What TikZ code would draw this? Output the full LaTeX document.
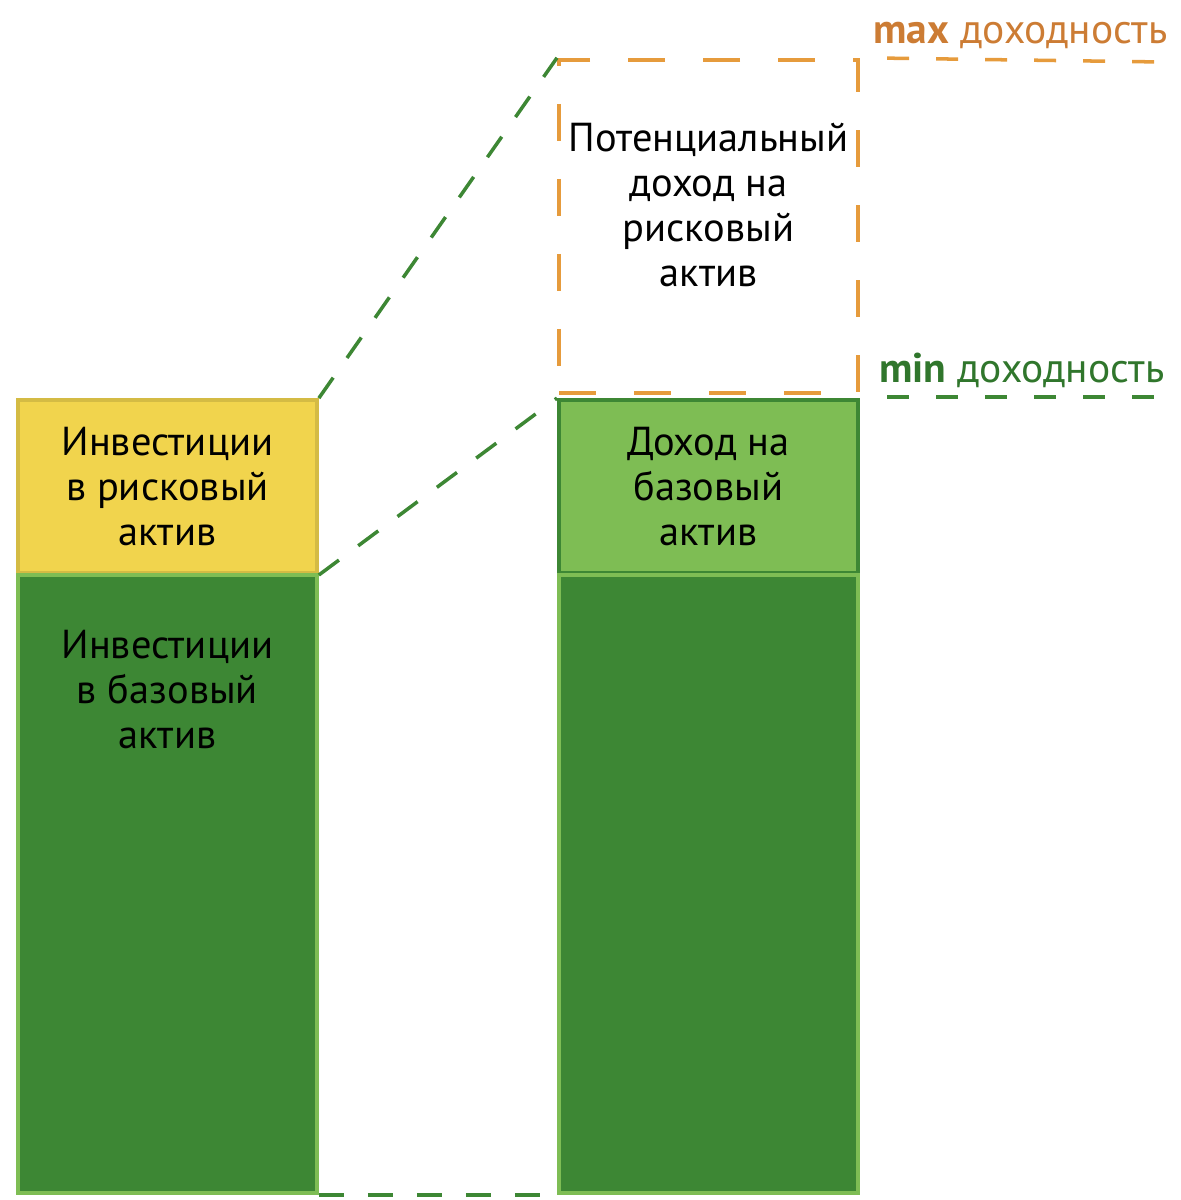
\documentclass[tikz,border=0pt]{standalone}
\usepackage{fontspec}
\setmainfont{PT Sans}
\usetikzlibrary{positioning}
\definecolor{darkgreen}{RGB}{61,135,52}
\definecolor{lightgreen}{RGB}{126,189,84}
\definecolor{goldyellow}{RGB}{241,212,77}
\definecolor{riskorange}{RGB}{230,155,60}
\definecolor{maxorange}{RGB}{204,124,52}
\definecolor{mingreen}{RGB}{48,118,44}

\begin{document}
\begin{tikzpicture}[
	box/.style={rectangle, inner sep=0pt, line width=1.1pt, minimum width=2.99cm, anchor=south west,
		align=center, font=\fontsize{11.5}{12.8}\selectfont},
	boxtext/.style={align=center, font=\fontsize{11.5}{12.8}\selectfont},
	greendash/.style={darkgreen, line width=1pt, dash pattern=on 0.25cm off 0.24cm},
	orangedash/.style={draw=riskorange, line width=1.2pt, dash pattern=on 0.37cm off 0.38cm},
	leveldash/.style={line width=1pt, dash pattern=on 0.22cm off 0.27cm, dash phase=-0.27cm},
	levellabel/.style={anchor=base east, inner sep=0pt, font=\fontsize{11.8}{14}\selectfont}
]
	\useasboundingbox (0,0) rectangle (11.81,12);

	\node[box, fill=goldyellow, draw=goldyellow!88!black, minimum height=1.73cm] (riskinv) at (0.16,6.25)
		{Инвестиции\\в рисковый\\актив};
	\node[box, fill=darkgreen, draw=lightgreen, minimum height=6.18cm] (baseinv) at (0.16,0.05) {};
	\node[boxtext, below=0.45cm of baseinv.north] (baseinvtext) {Инвестиции\\в базовый\\актив};

	\node[box, fill=lightgreen, draw=darkgreen, minimum height=1.73cm] (baseinc) at (5.57,6.25)
		{Доход на\\базовый\\актив};
	\node[box, fill=darkgreen, draw=lightgreen, minimum height=6.18cm] (baseret) at (5.57,0.05) {};

	\node[box, orangedash, minimum height=3.33cm] (riskinc) at (5.57,8.05) {};
	\node[boxtext, below=0.53cm of riskinc.north] (riskinctext) {Потенциальный\\доход на\\рисковый\\актив};

	\coordinate (maxend) at (11.62,11.38);
	\coordinate (minend) at (11.62,8.03);
	\draw[leveldash, riskorange] (riskinc.north east) -- (maxend);
	\draw[leveldash, darkgreen] (riskinc.south east |- minend) -- (minend);
	\node[levellabel, text=maxorange] (maxlabel) at (11.68,11.56) {\textbf{max} доходность};
	\node[levellabel, text=mingreen] (minlabel) at (11.65,8.17) {\textbf{min} доходность};

	\draw[greendash] (riskinv.north east) -- (riskinc.north west);
	\draw[greendash] (riskinv.south east) -- (baseinc.north west);
	\draw[greendash] (baseinv.south east) -- (baseret.south west);
\end{tikzpicture}
\end{document}
